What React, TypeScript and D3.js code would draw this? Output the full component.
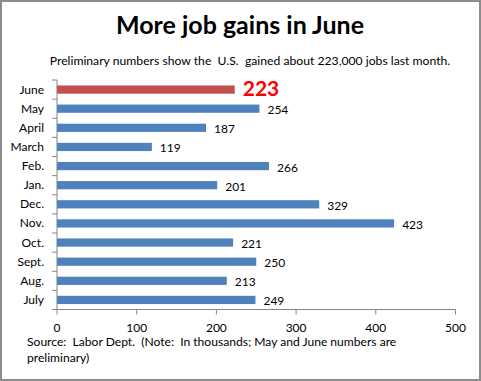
import React from "react";
import * as d3 from "d3";

const categories = ["June", "May", "April", "March", "Feb.", "Jan.", "Dec.", "Nov.", "Oct.", "Sept.", "Aug.", "July"];
const values = [223, 254, 187, 119, 266, 201, 329, 423, 221, 250, 213, 249];
const xTicks = [0, 100, 200, 300, 400, 500];
const title = "More job gains in June";
const subtitle = "Preliminary numbers show the  U.S.  gained about 223,000 jobs last month.";
const source1 = "Source:  Labor Dept.  (Note:  In thousands; May and June numbers are";
const source2 = "preliminary)";

export default function App() {
  const W = 481, H = 381;
  const x = d3.scaleLinear().domain([0, 500]).range([57, 455.5]);
  const y = d3.scaleBand<string>().domain(categories).range([80, 309.5]).paddingInner(0.57).paddingOuter(0.285);
  const font = "Lato, 'Open Sans', sans-serif";
  const axisColor = "#868686";
  const bottom = 309.5;
  const pre = { whiteSpace: "pre" as const };
  return (
    <svg width={W} height={H} style={{ position: "fixed", left: 0, top: 0 }} fontFamily={font}>
      <rect x={0} y={0} width={W} height={H} fill="#fff" />
      <rect x={1} y={1} width={W - 2} height={H - 2} fill="none" stroke="#8c8c8c" strokeWidth={2} />
      <text x={240} y={34} textAnchor="middle" fontSize={25} fontWeight={700} fill="#000">{title}</text>
      <text x={250} y={65} textAnchor="middle" fontSize={12.2} fill="#000" style={pre}>{subtitle}</text>
      {/* axes */}
      <line x1={57} x2={57} y1={80} y2={bottom} stroke={axisColor} />
      <line x1={57} x2={x(500)} y1={bottom} y2={bottom} stroke={axisColor} />
      {d3.range(categories.length + 1).map((i) => {
        const yy = 80 + (i * (bottom - 80)) / categories.length;
        return <line key={"yt" + i} x1={52} x2={57} y1={yy} y2={yy} stroke={axisColor} />;
      })}
      {xTicks.map((t) => (
        <g key={"xt" + t}>
          <line x1={x(t)} x2={x(t)} y1={bottom} y2={bottom + 5} stroke={axisColor} />
          <text x={x(t)} y={bottom + 22} textAnchor="middle" fontSize={12} fill="#000">{t}</text>
        </g>
      ))}
      {categories.map((c, i) => {
        const yc = (y(c) as number) + y.bandwidth() / 2;
        const isJune = i === 0;
        return (
          <g key={c}>
            <text x={44} y={yc + 1} textAnchor="end" dominantBaseline="middle" fontSize={12} fill="#000">{c}</text>
            <rect x={x(0)} y={y(c)} width={x(values[i]) - x(0)} height={y.bandwidth()} fill={isJune ? "#C0504D" : "#4F81BD"} />
            {isJune ? (
              <text x={x(values[i]) + 8} y={yc + 1} dominantBaseline="middle" fontSize={21} fontWeight={700} fill="#FF0000">{values[i]}</text>
            ) : (
              <text x={x(values[i]) + 8} y={yc + 2.5} dominantBaseline="middle" fontSize={12} fill="#000">{values[i]}</text>
            )}
          </g>
        );
      })}
      <text x={27} y={346} fontSize={12.1} fill="#000" style={pre}>{source1}</text>
      <text x={27} y={362} fontSize={12.1} fill="#000" style={pre}>{source2}</text>
    </svg>
  );
}
